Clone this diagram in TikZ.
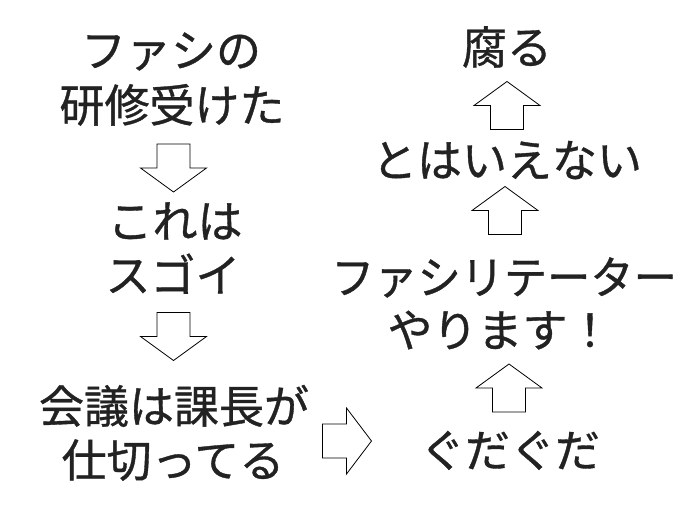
\documentclass[tikz,border=0pt]{standalone}
\usepackage{fontspec}
\newfontfamily\jpfont[FakeBold=0.8]{Noto Sans CJK JP}
\definecolor{ink}{HTML}{222222}
\tikzset{
  x=1pt,y=-1pt,
  lbl/.style={anchor=base,inner sep=0pt,text=ink,font=\jpfont\fontsize{45}{54}\selectfont},
  blk/.style={draw=black,line width=0.8pt,fill=white,line join=miter},
  pics/downarrow/.style={code={\draw[blk] (-16.5,-24) -- (16.5,-24) -- (16.5,0) -- (33,0) -- (0,24) -- (-33,0) -- (-16.5,0) -- cycle;}},
  pics/uparrow/.style={code={\draw[blk] (-16.5,24) -- (16.5,24) -- (16.5,0) -- (33,0) -- (0,-24) -- (-33,0) -- (-16.5,0) -- cycle;}},
  pics/rightarrow/.style={code={\draw[blk] (-24,-17) -- (0,-17) -- (0,-33) -- (25,0) -- (0,33) -- (0,17) -- (-24,17) -- cycle;}},
}
\begin{document}
\begin{tikzpicture}
\useasboundingbox[fill=white] (0,0) rectangle (700,519);
% left column
\node[lbl] (a1) at (171,67) {ファシの};
\node[lbl] (a2) at (172,122) {研修受けた};
\node[lbl] (b1) at (175,238) {これは};
\node[lbl] (b2) at (173,292) {スゴイ};
\node[lbl] (c1) at (174,423) {会議は課長が};
\node[lbl] (c2) at (173,477) {仕切ってる};
% right column
\node[lbl] (d1) at (510,467) {ぐだぐだ};
\node[lbl,xscale=0.96] (e1) at (504,294) {ファシリテーター};
\node[lbl] (e2) at (500,347) {やります！};
\node[lbl] (f1) at (507,177) {とはいえない};
\node[lbl] (g1) at (507,64) {腐る};
% block arrows
\pic at (173.5,168) {downarrow};
\pic at (173.5,336.5) {downarrow};
\pic at (346.5,441) {rightarrow};
\pic at (509,388) {uparrow};
\pic at (505,210.5) {uparrow};
\pic at (507,105.5) {uparrow};
\end{tikzpicture}
\end{document}
